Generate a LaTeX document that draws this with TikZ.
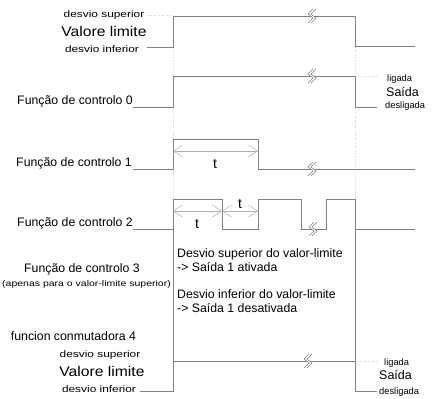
\documentclass[tikz,border=0pt]{standalone}
\usepackage{fontspec}
\setmainfont{Liberation Sans}
\newfontfamily\wideF[FakeStretch=1.25]{Liberation Sans}
\newfontfamily\midF[FakeStretch=1.12]{Liberation Sans}
\usetikzlibrary{arrows.meta}
\definecolor{sigc}{RGB}{130,130,130}
\definecolor{arrc}{RGB}{175,175,175}
\definecolor{guidec}{RGB}{210,210,210}
\tikzset{
  sig/.style={draw=sigc, line width=0.75bp},
  guide/.style={draw=guidec, dotted, line width=0.6bp},
  tarrow/.style={draw=arrc, line width=0.5bp,
     {Straight Barb[length=9bp,width=12bp]}-{Straight Barb[length=9bp,width=12bp]}},
  lbl/.style={inner sep=0pt, font=\fontsize{12.3bp}{14bp}\selectfont},
  small/.style={inner sep=0pt, font=\wideF\fontsize{9.5bp}{11bp}\selectfont},
  big/.style={inner sep=0pt, font=\midF\fontsize{14bp}{16bp}\selectfont},
  tiny/.style={inner sep=0pt, font=\fontsize{9.3bp}{11bp}\selectfont},
  tlbl/.style={inner sep=0pt, font=\fontsize{14bp}{16bp}\selectfont},
  brk/.pic={
    \fill[white] (1,-7) -- (-4,-2) -- (1,2) -- (-4,7) -- (-1,7) -- (4,2) -- (-1,-2) -- (4,-7) -- cycle;
    \draw[draw=sigc, line width=0.55bp, line join=round] (1,-7) -- (-4,-2) -- (1,2) -- (-4,7);
    \draw[draw=sigc, line width=0.55bp, line join=round] (4,-7) -- (-1,-2) -- (4,2) -- (-1,7);
  }
}
\begin{document}
\begin{tikzpicture}[x=1bp,y=-1bp]
\useasboundingbox (0,0) rectangle (436,398);
% guide lines
\draw[guide] (173,16) -- (173,391);
\draw[guide] (355,16) -- (355,391);
\draw[guide] (146,15) -- (173,15);
\draw[guide] (355,76) -- (378,76);
\draw[guide] (355,361) -- (376,361);
% signals
\draw[sig] (147,47) -- (173,47) -- (173,16) -- (355,16) -- (355,46) -- (415,46);
\draw[sig] (133,107) -- (173,107) -- (173,76) -- (355,76) -- (355,107) -- (377,107);
\draw[sig] (133,169) -- (173,169) -- (173,139) -- (258,139) -- (258,169) -- (415,169);
\draw[sig] (133,229) -- (173,229) -- (173,199) -- (222,199) -- (222,229) -- (258,229)
   -- (258,199) -- (301,199) -- (301,229) -- (326,229) -- (326,199) -- (355,199)
   -- (355,229) -- (415,229);
\draw[sig] (173,229) -- (173,361);
\draw[sig] (355,229) -- (355,361);
\draw[sig] (140,391) -- (173,391) -- (173,361) -- (355,361) -- (355,391) -- (377,391);
% breaks
\pic at (312,16) {brk};
\pic at (312,76) {brk};
\pic at (312,169) {brk};
\pic at (313,229) {brk};
\pic at (308,361) {brk};
% t arrows
\coordinate (a1) at (173,151);
\coordinate (a2) at (258,151);
\coordinate (b1) at (173,211);
\coordinate (b2) at (222,211);
\coordinate (b3) at (258,211);
\draw[tarrow] (a1) -- (a2);
\draw[tarrow] (b1) -- (b2);
\draw[tarrow] (b2) -- (b3);
\node[tlbl, anchor=base] (t1) at (215,168) {t};
\node[tlbl, anchor=base] (t2) at (197,228) {t};
\node[tlbl, anchor=base] (t3) at (240,208) {t};
% left labels
\node[small, anchor=base] (ds1) at (104,17) {desvio superior};
\node[big, anchor=base] (vl1) at (104,36) {Valore limite};
\node[small, anchor=base] (di1) at (102,52) {desvio inferior};
\node[lbl, anchor=base east] (f0) at (133,104.5) {Função de controlo 0};
\node[lbl, anchor=base east] (f1) at (132,166) {Função de controlo 1};
\node[lbl, anchor=base east] (f2) at (133,226) {Função de controlo 2};
\node[lbl, anchor=base] (f3) at (82,272) {Função de controlo 3};
\node[inner sep=0pt, font=\wideF\fontsize{8.4bp}{10bp}\selectfont, anchor=base] (f3s) at (86.5,286) {(apenas para o valor-limite superior)};
\node[lbl, anchor=base] (f4) at (73.5,340) {funcion conmutadora 4};
\node[small, anchor=base] (ds2) at (100,357) {desvio superior};
\node[big, anchor=base] (vl2) at (102,376) {Valore limite};
\node[small, anchor=base] (di2) at (99,392) {desvio inferior};
% right labels
\node[tiny, anchor=base west] (lg1) at (387,81) {ligada};
\node[inner sep=0pt, font=\fontsize{12.5bp}{14bp}\selectfont, anchor=base west] (sa1) at (386,96) {Saída};
\node[tiny, anchor=base west] (dl1) at (385,108) {desligada};
\node[tiny, anchor=base west] (lg2) at (384,365) {ligada};
\node[inner sep=0pt, font=\fontsize{12.5bp}{14bp}\selectfont, anchor=base west] (sa2) at (379,379) {Saída};
\node[tiny, anchor=base west] (dl2) at (379,394) {desligada};
% box text
\node[lbl, anchor=base west] (x1) at (177,257) {Desvio superior do valor-limite};
\node[lbl, anchor=base west] (x2) at (177,271) {-> Saída 1 ativada};
\node[lbl, anchor=base west] (x3) at (177,298) {Desvio inferior do valor-limite};
\node[lbl, anchor=base west] (x4) at (177,312) {-> Saída 1 desativada};
\end{tikzpicture}
\end{document}
